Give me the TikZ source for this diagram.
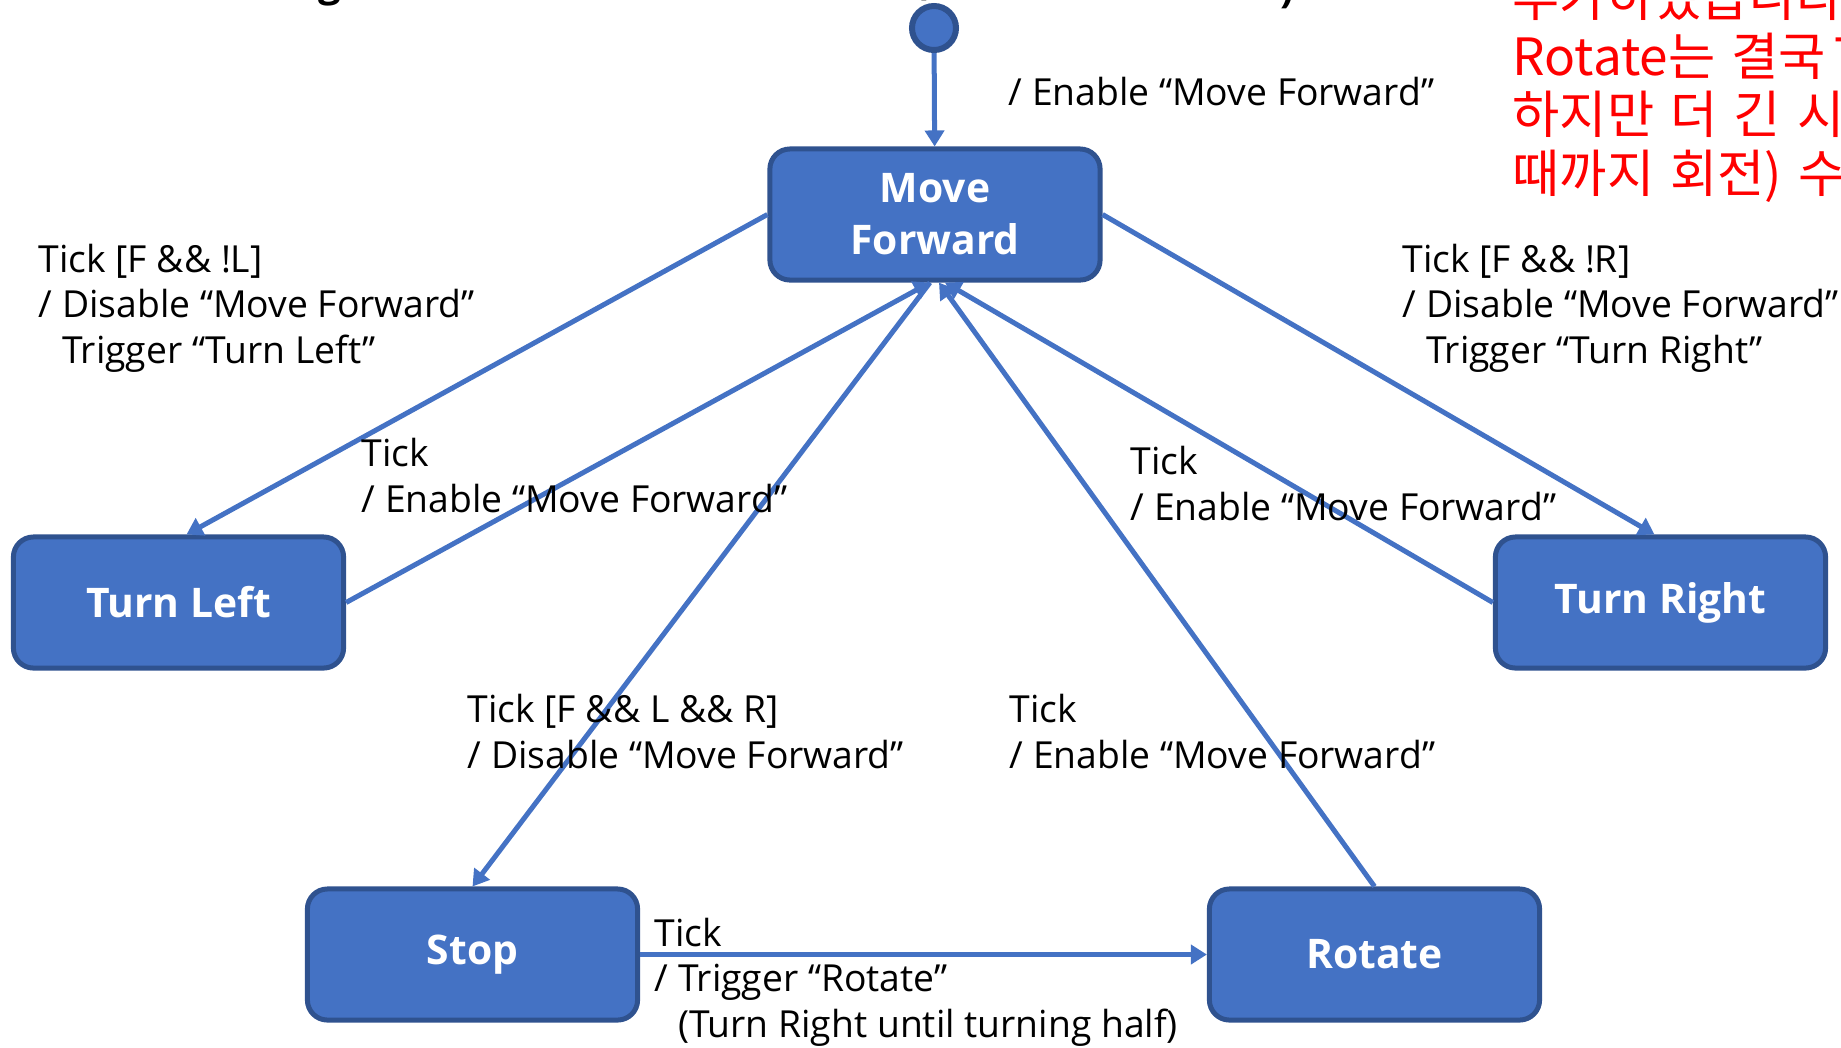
\documentclass[tikz,border=0pt]{standalone}
\usepackage{fontspec}
\setmainfont{Open Sans}
\newfontfamily\krfont[WordSpace=1.4]{Noto Sans CJK KR}
\usetikzlibrary{arrows.meta}
\definecolor{boxfill}{HTML}{4472C4}
\definecolor{boxline}{HTML}{2F528F}
\tikzset{
  statebox/.style={draw=boxline, fill=boxfill, line width=0.05cm, rounded corners=0.2cm,
    minimum width=3.30cm, minimum height=1.31cm, inner sep=0pt, align=center,
    text=white, font=\fontsize{11.6}{14.8}\selectfont\bfseries},
  initdot/.style={circle, draw=boxline, fill=boxfill, line width=0.06cm, minimum size=0.44cm, inner sep=0pt},
  trans/.style={draw=boxfill, line width=0.05cm, -{Triangle[length=0.16cm, width=0.19cm]}},
  lbl/.style={anchor=base west, align=left, inner sep=0pt, font=\fontsize{10.6}{12.9}\selectfont},
  notetxt/.style={anchor=base west, align=left, inner sep=0pt, text=red, font=\krfont\fontsize{14.6}{16.6}\selectfont},
  titlebit/.style={anchor=base west, inner sep=0pt, font=\fontsize{11.4}{14}\selectfont\bfseries}
}
\begin{document}
\begin{tikzpicture}[x=0.01cm, y=-0.01cm]
  \useasboundingbox (0,0) rectangle (1841,1047);

  % title, cut off at the top
  \node[titlebit] (tg) at (318,-4) {g};
  \node[titlebit] (tl) at (914,-6) {(};
  \node[titlebit] (tr) at (1280,2) {)};

  % states
  \node[initdot] (init) at (934,28) {};
  \node[statebox] (forward) at (935,214.5) {Move\\Forward};
  \node[statebox] (turnleft) at (178.5,602.5) {Turn Left};
  \node[statebox] (turnright) at (1660.5,602.5) {Turn Right};
  \node[statebox] (stop) at (472.5,954.5) {Stop};
  \node[statebox] (rot) at (1374.5,954.5) {Rotate};

  % transitions
  \draw[trans] (init) -- (forward);
  \draw[trans] (forward.west) -- ([xshift=0.08cm]turnleft.north);
  \draw[trans] (turnleft.east) -- ([xshift=-0.05cm]forward.south);
  \draw[trans] (forward.east) -- ([xshift=-0.06cm]turnright.north);
  \draw[trans] (turnright.west) -- ([xshift=0.1cm]forward.south);
  \draw[trans] ([xshift=-0.05cm]forward.south) -- (stop.north);
  \draw[trans] (rot.north) -- ([xshift=0.04cm]forward.south);
  \draw[trans] (stop.east) -- (rot.west);

  % labels (placed at the baseline of their last line)
  \node[lbl] (lblinit) at (1008,105) {/ Enable “Move Forward”};
  \node[lbl] (lblfl) at (38,363) {Tick [F \&\& !L]\\/ Disable “Move Forward”\\\phantom{/ }Trigger “Turn Left”};
  \node[lbl] (lblfr) at (1402,363) {Tick [F \&\& !R]\\/ Disable “Move Forward”\\\phantom{/ }Trigger “Turn Right”};
  \node[lbl] (lbllf) at (361,512) {Tick\\/ Enable “Move Forward”};
  \node[lbl] (lblrf) at (1130,520) {Tick\\/ Enable “Move Forward”};
  \node[lbl] (lblfs) at (467,768) {Tick [F \&\& L \&\& R]\\/ Disable “Move Forward”};
  \node[lbl] (lblrotf) at (1009,768) {Tick\\/ Enable “Move Forward”};
  \node[lbl] (lblsr) at (654,1037) {Tick\\/ Trigger “Rotate”\\\phantom{/ }(Turn Right until turning half)};

  % red note, cut off at the right
  \node[notetxt] (note) at (1512,192) {추가하였습니다\\Rotate는 결국 \hspace{-0.15em}T\\하지만 더 긴 시\\때까지 회전) 수};
\end{tikzpicture}
\end{document}
